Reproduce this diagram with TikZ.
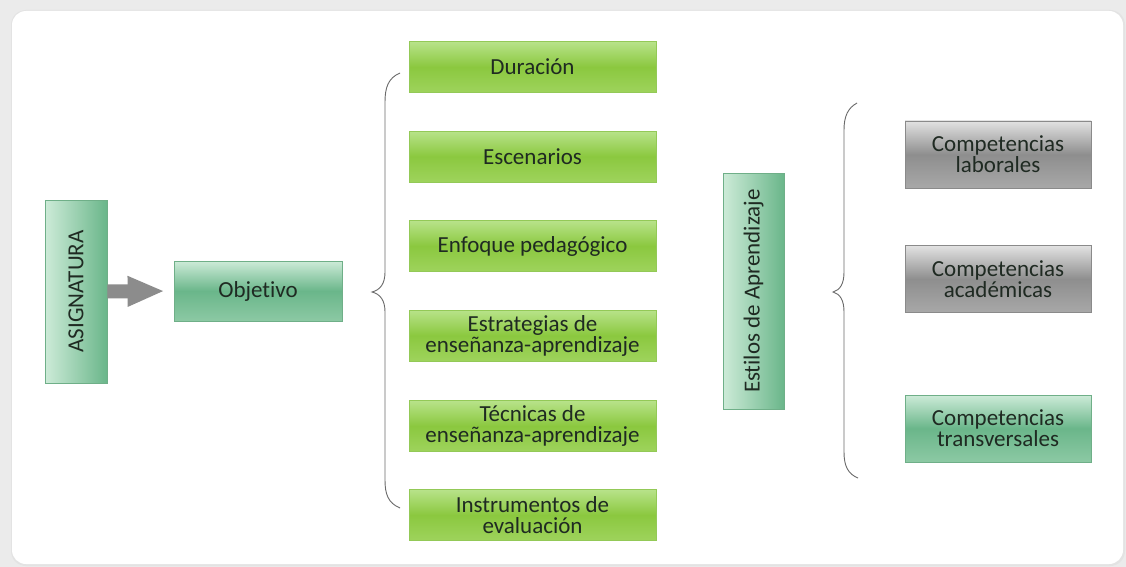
\documentclass[tikz,border=0pt]{standalone}
\usepackage{fontspec}
\setmainfont{Carlito}[Ligatures={NoCommon,NoRare,NoContextual}]
\usetikzlibrary{arrows.meta}
\definecolor{bgGray}{HTML}{EBEBEB}
\definecolor{gTop}{HTML}{B8E38A}
\definecolor{gMid}{HTML}{8BC83F}
\definecolor{gBot}{HTML}{9ED35C}
\definecolor{gEdge}{HTML}{93C957}
\definecolor{tTop}{HTML}{CDEBD8}
\definecolor{tMid}{HTML}{6AB68A}
\definecolor{tBot}{HTML}{8CC9A4}
\definecolor{tEdge}{HTML}{6FAF88}
\definecolor{kTop}{HTML}{E2E2E2}
\definecolor{kMid}{HTML}{8E8E8E}
\definecolor{kBot}{HTML}{A8A8A8}
\definecolor{kEdge}{HTML}{8A8A8A}
\definecolor{txt}{HTML}{1F2A22}
\definecolor{arrowGray}{HTML}{8C8C8C}
\definecolor{braceGray}{HTML}{6A6A6A}
\tikzset{
  boxbase/.style={rectangle, inner sep=0pt, align=center, text=txt,
    font=\fontsize{23}{21}\selectfont},
  greenbox/.style={boxbase, minimum width=247pt, minimum height=51pt,
    top color=gTop, bottom color=gBot, middle color=gMid, draw=gEdge, line width=0.8pt},
  tealbox/.style={boxbase, top color=tTop, bottom color=tBot, middle color=tMid,
    draw=tEdge, line width=0.8pt},
  tealvbox/.style={boxbase, left color=tTop, right color=tMid,
    draw=tEdge, line width=0.8pt},
  graybox/.style={boxbase, minimum width=186pt, minimum height=67pt,
    top color=kTop, bottom color=kBot, middle color=kMid, draw=kEdge, line width=0.8pt},
  bracestyle/.style={draw=braceGray, line width=0.9pt},
}
\begin{document}
\begin{tikzpicture}[x=1pt,y=-1pt]
\useasboundingbox (0,0) rectangle (1126,567);
\fill[bgGray] (0,0) rectangle (1126,567);
\fill[gray!22] (11,10) [rounded corners=15pt] rectangle (1125,566);
\fill[white,rounded corners=14pt] (12,11) rectangle (1123,564);

% left part
\node[tealvbox, minimum width=62pt, minimum height=183pt] (asig) at (76,291.5)
  {\rotatebox{90}{ASIGNATURA}};
\node[tealbox, minimum width=168pt, minimum height=60pt] (obj) at (258,291) {Objetivo};
\draw[arrowGray, line width=14pt, shorten >=9pt,
  -{Triangle[length=37pt,width=28pt]}] (asig.east) -- (obj.west);

% middle column
\node[greenbox] (dur) at (532.5,67) {Duración};
\node[greenbox] (esc) at (532.5,156.5) {Escenarios};
\node[greenbox] (enf) at (532.5,246) {Enfoque pedagógico};
\node[greenbox] (est) at (532.5,335.5) {Estrategias de\\enseñanza-aprendizaje};
\node[greenbox] (tec) at (532.5,426) {Técnicas de\\enseñanza-aprendizaje};
\node[greenbox] (ins) at (532.5,515) {Instrumentos de\\evaluación};

% left brace
\coordinate (lbT) at (400,73);
\coordinate (lbM) at (372,292);
\coordinate (lbB) at (400,508);
\draw[bracestyle] (lbT) .. controls (388,78) and (385,88) .. (385,102)
  -- (385,272) .. controls (385,284) and (380,290) .. (lbM)
  .. controls (380,294) and (385,300) .. (385,312)
  -- (385,480) .. controls (385,494) and (388,503) .. (lbB);

% Estilos
\node[tealvbox, minimum width=61pt, minimum height=236pt] (estilos) at (753.5,291)
  {\rotatebox{90}{Estilos de Aprendizaje}};

% right brace
\coordinate (rbT) at (857,103);
\coordinate (rbM) at (833,292);
\coordinate (rbB) at (858,478);
\draw[bracestyle] (rbT) .. controls (848,108) and (844,116) .. (844,130)
  -- (844,272) .. controls (844,284) and (840,290) .. (rbM)
  .. controls (840,294) and (844,300) .. (844,312)
  -- (844,452) .. controls (844,466) and (848,474) .. (rbB);

% competencias
\node[graybox] (lab) at (998,154.5) {Competencias\\laborales};
\node[graybox] (aca) at (998,279) {Competencias\\académicas};
\node[tealbox, minimum width=186pt, minimum height=67pt] (tra) at (998,428.5)
  {Competencias\\transversales};
\end{tikzpicture}
\end{document}
